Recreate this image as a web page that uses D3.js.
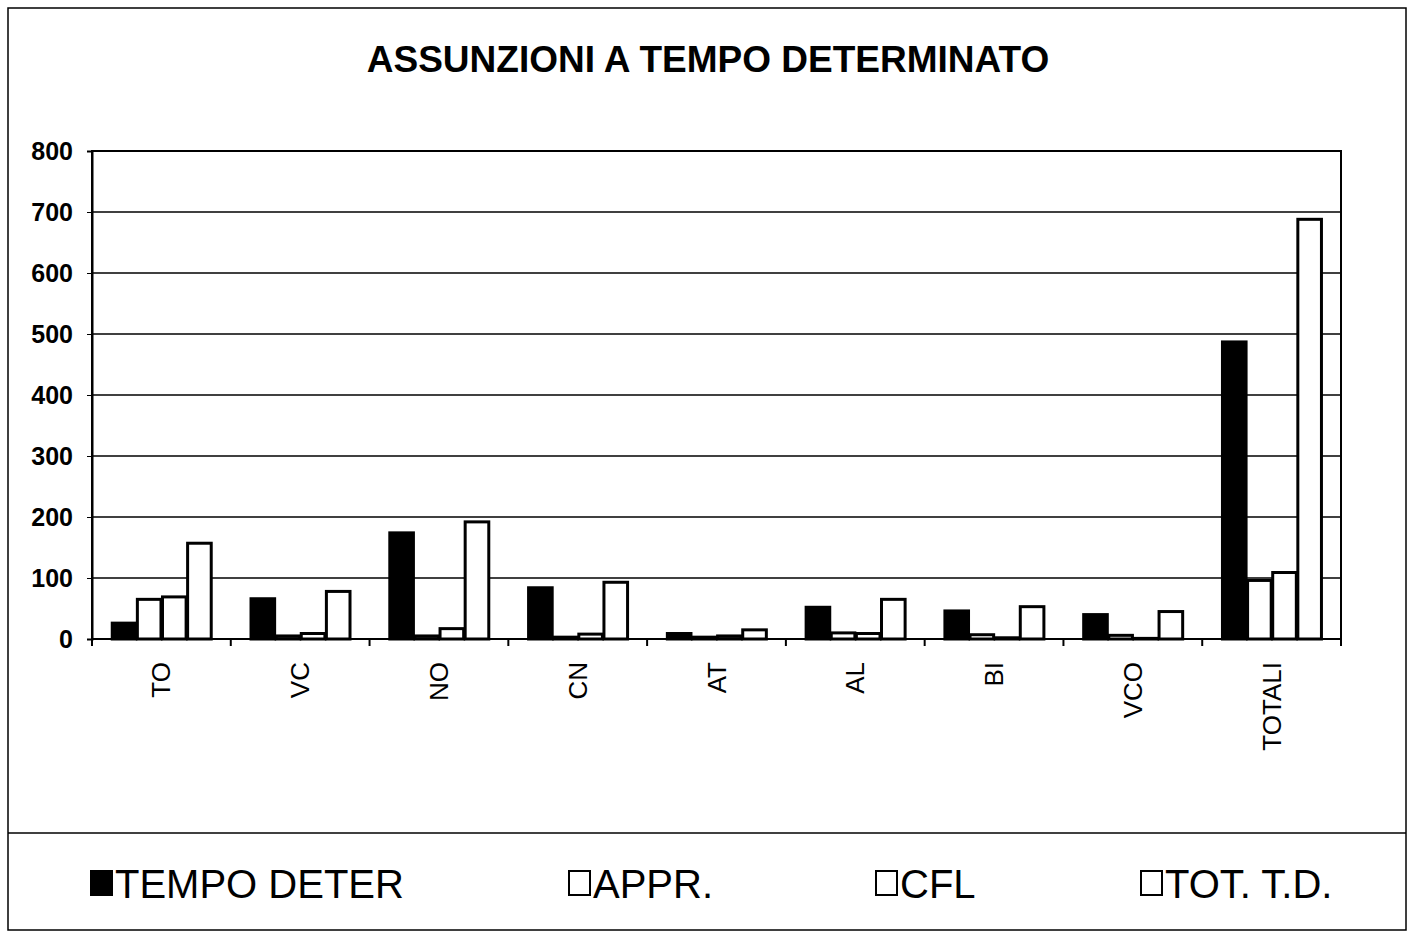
<!DOCTYPE html>
<html>
<head>
<meta charset="utf-8">
<script src="https://cdn.jsdelivr.net/npm/d3@7"></script>
<style>
  body { margin: 0; background: #fff; }
  text { font-family: Arial, "Liberation Sans", sans-serif; }
</style>
</head>
<body>
<script>
var categories = ["TO", "VC", "NO", "CN", "AT", "AL", "BI", "VCO", "TOTALI"];
var seriesNames = ["TEMPO DETER", "APPR.", "CFL", "TOT. T.D."];
var tempoDeter = [26, 66, 174, 84, 9, 52, 46, 40, 487];
var appr = [65, 5, 5, 3, 3, 10, 7, 6, 96];
var cfl = [69, 9, 17, 8, 5, 9, 2, 1, 109];
var totTD = [157, 78, 192, 93, 15, 65, 53, 45, 688];
var yTicks = [0, 100, 200, 300, 400, 500, 600, 700, 800];
var legendX = [90, 568, 875, 1140];

var width = 1414;
var height = 942;
var plotLeft = 92, plotRight = 1341, plotTop = 151, plotBottom = 639;

var seriesValues = [tempoDeter, appr, cfl, totTD];
var rows = categories.map(function(c, i) {
  return { cat: c, vals: seriesValues.map(function(s, j) { return { key: j, v: s[i] }; }) };
});

var svg = d3.select("body").append("svg").attr("width", width).attr("height", height);

// outer frame and legend separator
svg.append("rect").attr("x", 8).attr("y", 8).attr("width", 1398).attr("height", 922)
  .attr("fill", "none").attr("stroke", "#000").attr("stroke-width", 1.5);
svg.append("line").attr("x1", 8).attr("x2", 1406).attr("y1", 833).attr("y2", 833)
  .attr("stroke", "#000").attr("stroke-width", 1.5);

svg.append("text").attr("x", 708).attr("y", 72).attr("text-anchor", "middle")
  .attr("font-size", 37).attr("font-weight", "bold").text("ASSUNZIONI A TEMPO DETERMINATO");

var x0 = d3.scaleBand().domain(categories).range([plotLeft, plotRight]);
var bw = x0.bandwidth();
var x1 = d3.scaleBand().domain(d3.range(seriesNames.length)).range([bw * 0.135, bw * 0.87]).padding(0.06);
var y = d3.scaleLinear().domain([0, 800]).range([plotBottom, plotTop]);

// gridlines
svg.append("g").selectAll("line").data(yTicks.slice(1)).enter().append("line")
  .attr("x1", plotLeft).attr("x2", plotRight)
  .attr("y1", function(d) { return y(d); }).attr("y2", function(d) { return y(d); })
  .attr("stroke", "#000").attr("stroke-width", 1.5);

// bars
var groups = svg.append("g").selectAll("g").data(rows).enter().append("g")
  .attr("transform", function(d) { return "translate(" + x0(d.cat) + ",0)"; });
groups.selectAll("rect").data(function(d) { return d.vals; }).enter().append("rect")
  .attr("x", function(d) { return x1(d.key); })
  .attr("y", function(d) { return y(d.v); })
  .attr("width", x1.bandwidth())
  .attr("height", function(d) { return plotBottom - y(d.v); })
  .attr("fill", function(d) { return d.key === 0 ? "#000" : "#fff"; })
  .attr("stroke", "#000").attr("stroke-width", 3);

// plot border
svg.append("rect").attr("x", plotLeft).attr("y", plotTop)
  .attr("width", plotRight - plotLeft).attr("height", plotBottom - plotTop)
  .attr("fill", "none").attr("stroke", "#000").attr("stroke-width", 2);

// y axis
var axisy = d3.axisLeft(y).tickValues(yTicks).tickSize(5).tickPadding(14);
var gy = svg.append("g").attr("transform", "translate(" + plotLeft + ",0)").call(axisy);
gy.select(".domain").attr("stroke-width", 2);
gy.selectAll("text").attr("font-size", 25).attr("font-weight", "bold").attr("fill", "#000")
  .attr("font-family", "Arial, 'Liberation Sans', sans-serif");

// x axis: ticks at category boundaries
var boundaries = categories.map(function(c) { return x0(c); }).concat([plotRight]);
svg.append("g").selectAll("line").data(boundaries).enter().append("line")
  .attr("x1", function(d) { return d; }).attr("x2", function(d) { return d; })
  .attr("y1", plotBottom).attr("y2", plotBottom + 7)
  .attr("stroke", "#000").attr("stroke-width", 2);
svg.append("g").selectAll("text").data(categories).enter().append("text")
  .attr("transform", function(d) { return "translate(" + (x0(d) + bw / 2 + 9) + "," + 662 + ") rotate(-90)"; })
  .attr("text-anchor", "end").attr("font-size", 26).text(function(d) { return d; });

// legend
var leg = svg.append("g").selectAll("g").data(seriesNames).enter().append("g")
  .attr("transform", function(d, i) { return "translate(" + legendX[i] + ",868)"; });
leg.append("rect").attr("x", 1).attr("y", 3).attr("width", 21).attr("height", 24)
  .attr("fill", function(d, i) { return i === 0 ? "#000" : "#fff"; })
  .attr("stroke", "#000").attr("stroke-width", 2);
leg.append("text").attr("x", 25).attr("y", 30).attr("font-size", 40)
  .text(function(d) { return d; });
</script>
</body>
</html>
